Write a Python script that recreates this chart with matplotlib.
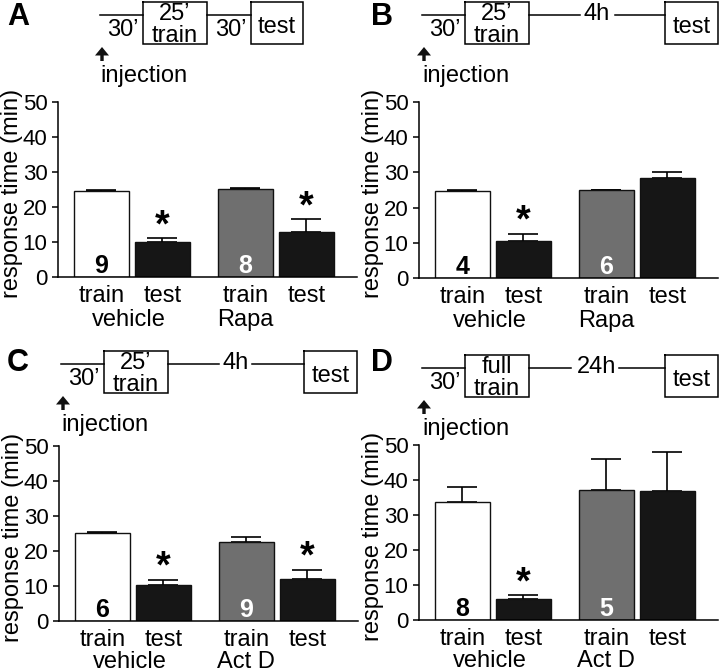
import matplotlib
matplotlib.use("Agg")
import matplotlib.pyplot as plt

plt.rcParams['font.family'] = ['Liberation Sans', 'DejaVu Sans']

# ---------------- data ----------------
bar_labels = ["train", "test", "train", "test"]
yticks = [0, 10, 20, 30, 40, 50]

a_values = [24.7, 9.9, 25.1, 12.9]
a_errors = [0.2, 1.1, 0.3, 3.6]
a_n = [9, 8]
a_sig = [False, True, False, True]
a_groups = ["vehicle", "Rapa"]

b_values = [24.7, 10.6, 24.9, 28.3]
b_errors = [0.2, 1.9, 0.2, 1.9]
b_n = [4, 6]
b_sig = [False, True, False, False]
b_groups = ["vehicle", "Rapa"]

c_values = [25.1, 10.2, 22.7, 12.0]
c_errors = [0.2, 1.6, 1.2, 2.6]
c_n = [6, 9]
c_sig = [False, True, False, True]
c_groups = ["vehicle", "Act D"]

d_values = [33.7, 5.9, 37.2, 37.0]
d_errors = [4.3, 1.2, 8.7, 11.0]
d_n = [8, 5]
d_sig = [False, True, False, False]
d_groups = ["vehicle", "Act D"]

# ---------------- style ----------------
W, H = 720, 672
fig = plt.figure(figsize=(W / 100, H / 100), dpi=100)

pos = [0, 1, 2.36, 3.36]
bar_colors = ["white", "#161616", "#6f6f6f", "#161616"]
num_colors = ["black", "white"]
FS = 17


def px_axes(left, top, right, bottom):
    return fig.add_axes([left / W, 1 - bottom / H, (right - left) / W, (bottom - top) / H])


def bar_panel(ax, values, errors, ns, sig, groups, group_off=35.5):
    for i in range(4):
        ax.errorbar(pos[i], values[i], yerr=[[0], [errors[i]]], fmt='none',
                    ecolor='black', elinewidth=1.2, capsize=10.5, capthick=1.2, zorder=1)
    ax.bar(pos, values, width=0.91, color=bar_colors, edgecolor='#111111',
           linewidth=1.0, zorder=2)
    for k, i in enumerate([0, 2]):
        ax.text(pos[i], 1.1, str(ns[k]), ha='center', va='baseline', fontsize=18,
                fontweight='bold', color=num_colors[k], zorder=3)
    for i in range(4):
        if sig[i]:
            ax.text(pos[i], values[i] + errors[i] + 0.6, "*", ha='center', va='baseline',
                    fontsize=27, fontweight='bold', color='black', zorder=3)
    ax.set_xlim(-0.71, 4.19)
    ax.set_ylim(0, 50)
    ax.set_yticks(yticks)
    ax.set_xticks([])
    ax.tick_params(axis='y', length=4, width=1.1, pad=3.5, labelsize=16)
    for s in ['top', 'right']:
        ax.spines[s].set_visible(False)
    for s in ['left', 'bottom']:
        ax.spines[s].set_linewidth(1.1)
    ax.set_ylabel("response time (min)", fontsize=FS)
    ax.yaxis.set_label_coords(-0.116, 0.48)
    for i in range(4):
        ax.annotate(bar_labels[i], xy=(pos[i], 0), xycoords=('data', 'axes fraction'),
                    xytext=(0, -18), textcoords='offset points', ha='center',
                    va='baseline', fontsize=FS, annotation_clip=False)
    ax.annotate(groups[0], xy=((pos[0] + pos[1]) / 2 - 0.05, 0),
                xycoords=('data', 'axes fraction'), xytext=(0, -group_off),
                textcoords='offset points', ha='center', va='baseline', fontsize=FS,
                annotation_clip=False)
    ax.annotate(groups[1], xy=(pos[2], 0), xycoords=('data', 'axes fraction'),
                xytext=(0, -group_off), textcoords='offset points', ha='center',
                va='baseline', fontsize=FS, annotation_clip=False)


axA = px_axes(58, 102, 357, 277)
axB = px_axes(419, 102, 718, 278)
axC = px_axes(59, 446, 358, 621)
axD = px_axes(419, 445, 718, 620)
bar_panel(axA, a_values, a_errors, a_n, a_sig, a_groups)
bar_panel(axB, b_values, b_errors, b_n, b_sig, b_groups)
bar_panel(axC, c_values, c_errors, c_n, c_sig, c_groups, group_off=33.5)
bar_panel(axD, d_values, d_errors, d_n, d_sig, d_groups, group_off=33.5)

# ---------------- timeline diagrams (pixel overlay) ----------------
ov = fig.add_axes([0, 0, 1, 1], facecolor='none', zorder=5)
ov.set_xlim(0, W)
ov.set_ylim(H, 0)
ov.axis('off')

LW = 1.1


def box(x0, x1, y0, y1):
    ov.plot([x0, x1, x1, x0, x0], [y0, y0, y1, y1, y0], color='black', lw=LW,
            solid_joinstyle='miter')


def txt(x, y, s, ha='center'):
    ov.text(x, y, s, ha=ha, va='baseline', fontsize=FS)


def timeline(x0, L, mid=None, short=False, first="25\u2019"):
    ov.plot([x0, x0 + 43], [L, L], color='black', lw=LW)
    txt(x0 + 22.5, L + 21, "30\u2019")
    box(x0 + 43, x0 + 107, L - 13, L + 29)
    txt(x0 + 75, L + 5, first)
    txt(x0 + 75, L + 27, "train")
    if short:
        ov.plot([x0 + 107, x0 + 151], [L, L], color='black', lw=LW)
        txt(x0 + 131, L + 21, "30\u2019")
        box(x0 + 151, x0 + 203, L - 13, L + 29)
        txt(x0 + 177, L + 18, "test")
    else:
        label, g0, g1 = mid
        ov.plot([x0 + 107, x0 + 175 + g0], [L, L], color='black', lw=LW)
        ov.plot([x0 + 175 + g1, x0 + 243], [L, L], color='black', lw=LW)
        txt(x0 + 175, L + 5, label)
        box(x0 + 243, x0 + 296, L - 13, L + 29)
        txt(x0 + 269.5, L + 18, "test")
    ov.arrow(x0 + 2, L + 46, 0, -14, width=3.4, head_width=14, head_length=8.5,
             length_includes_head=True, color='#111111', lw=0)
    txt(x0, L + 67, "injection", ha='left')


timeline(100, 15, short=True)
timeline(422, 15, mid=("4h", -17, 18))
timeline(61, 364, mid=("4h", -17, 16))
timeline(422, 368, mid=("24h", -26, 22), first="full")

for x, y, s in [(7, 25, "A"), (371, 25, "B"), (7, 371, "C"), (371, 371, "D")]:
    ov.text(x, y, s, ha='left', va='baseline', fontsize=22, fontweight='bold')

fig.savefig("out.png", dpi=100)
